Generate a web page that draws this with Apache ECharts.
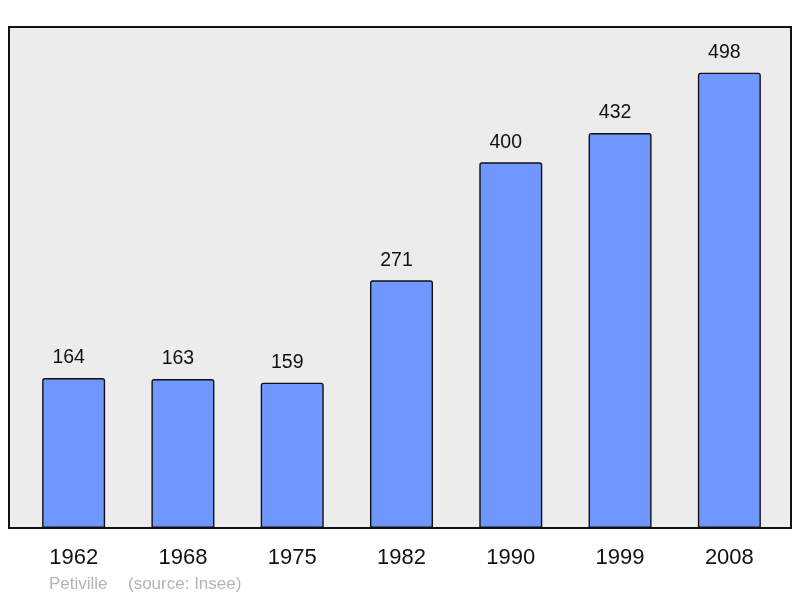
<!DOCTYPE html>
<html><head><meta charset="utf-8">
<script src="https://cdn.jsdelivr.net/npm/echarts@6/dist/echarts.min.js"></script>
<style>html,body{margin:0;padding:0;background:#fff}#c{width:800px;height:598px}</style>
</head><body><div id="c"></div>
<script>
const years = ['1962','1968','1975','1982','1990','1999','2008'];
const population = [164, 163, 159, 271, 400, 432, 498];
const chart = echarts.init(document.getElementById('c'));
chart.setOption({
  animation: false,
  grid: [
    {left: 9, top: 27, width: 782, height: 501, show: true, backgroundColor: '#ececec', borderColor: '#111', borderWidth: 2},
    {left: 19, top: 27, width: 765, height: 501}
  ],
  xAxis: [
    {gridIndex: 0, type: 'category', data: years, show: false},
    {gridIndex: 1, type: 'category', data: years,
     axisLine: {show: false}, axisTick: {show: false},
     axisLabel: {fontSize: 22, color: '#111', fontFamily: 'Liberation Sans, Arial', margin: 19}}
  ],
  yAxis: [
    {gridIndex: 0, type: 'value', min: 0, max: 548, show: false},
    {gridIndex: 1, type: 'value', min: 0, max: 548, show: false}
  ],
  series: [{
    type: 'bar', xAxisIndex: 1, yAxisIndex: 1, data: population, barWidth: 63,
    itemStyle: {color: '#7097ff', borderColor: '#111', borderWidth: 1.4, borderRadius: [2,2,0,0]},
    label: {show: true, position: 'top', distance: 10, offset: [-5, 0], fontSize: 19.5, color: '#111', fontFamily: 'Liberation Sans, Arial'}
  }],
  graphic: [
    {type: 'text', left: 49, top: 576, style: {text: 'Petiville', fontSize: 17, fill: '#b4b4b4', fontFamily: 'Liberation Sans, Arial'}},
    {type: 'text', left: 128, top: 576, style: {text: '(source: Insee)', fontSize: 17, fill: '#b4b4b4', fontFamily: 'Liberation Sans, Arial'}}
  ]
});
</script></body></html>
